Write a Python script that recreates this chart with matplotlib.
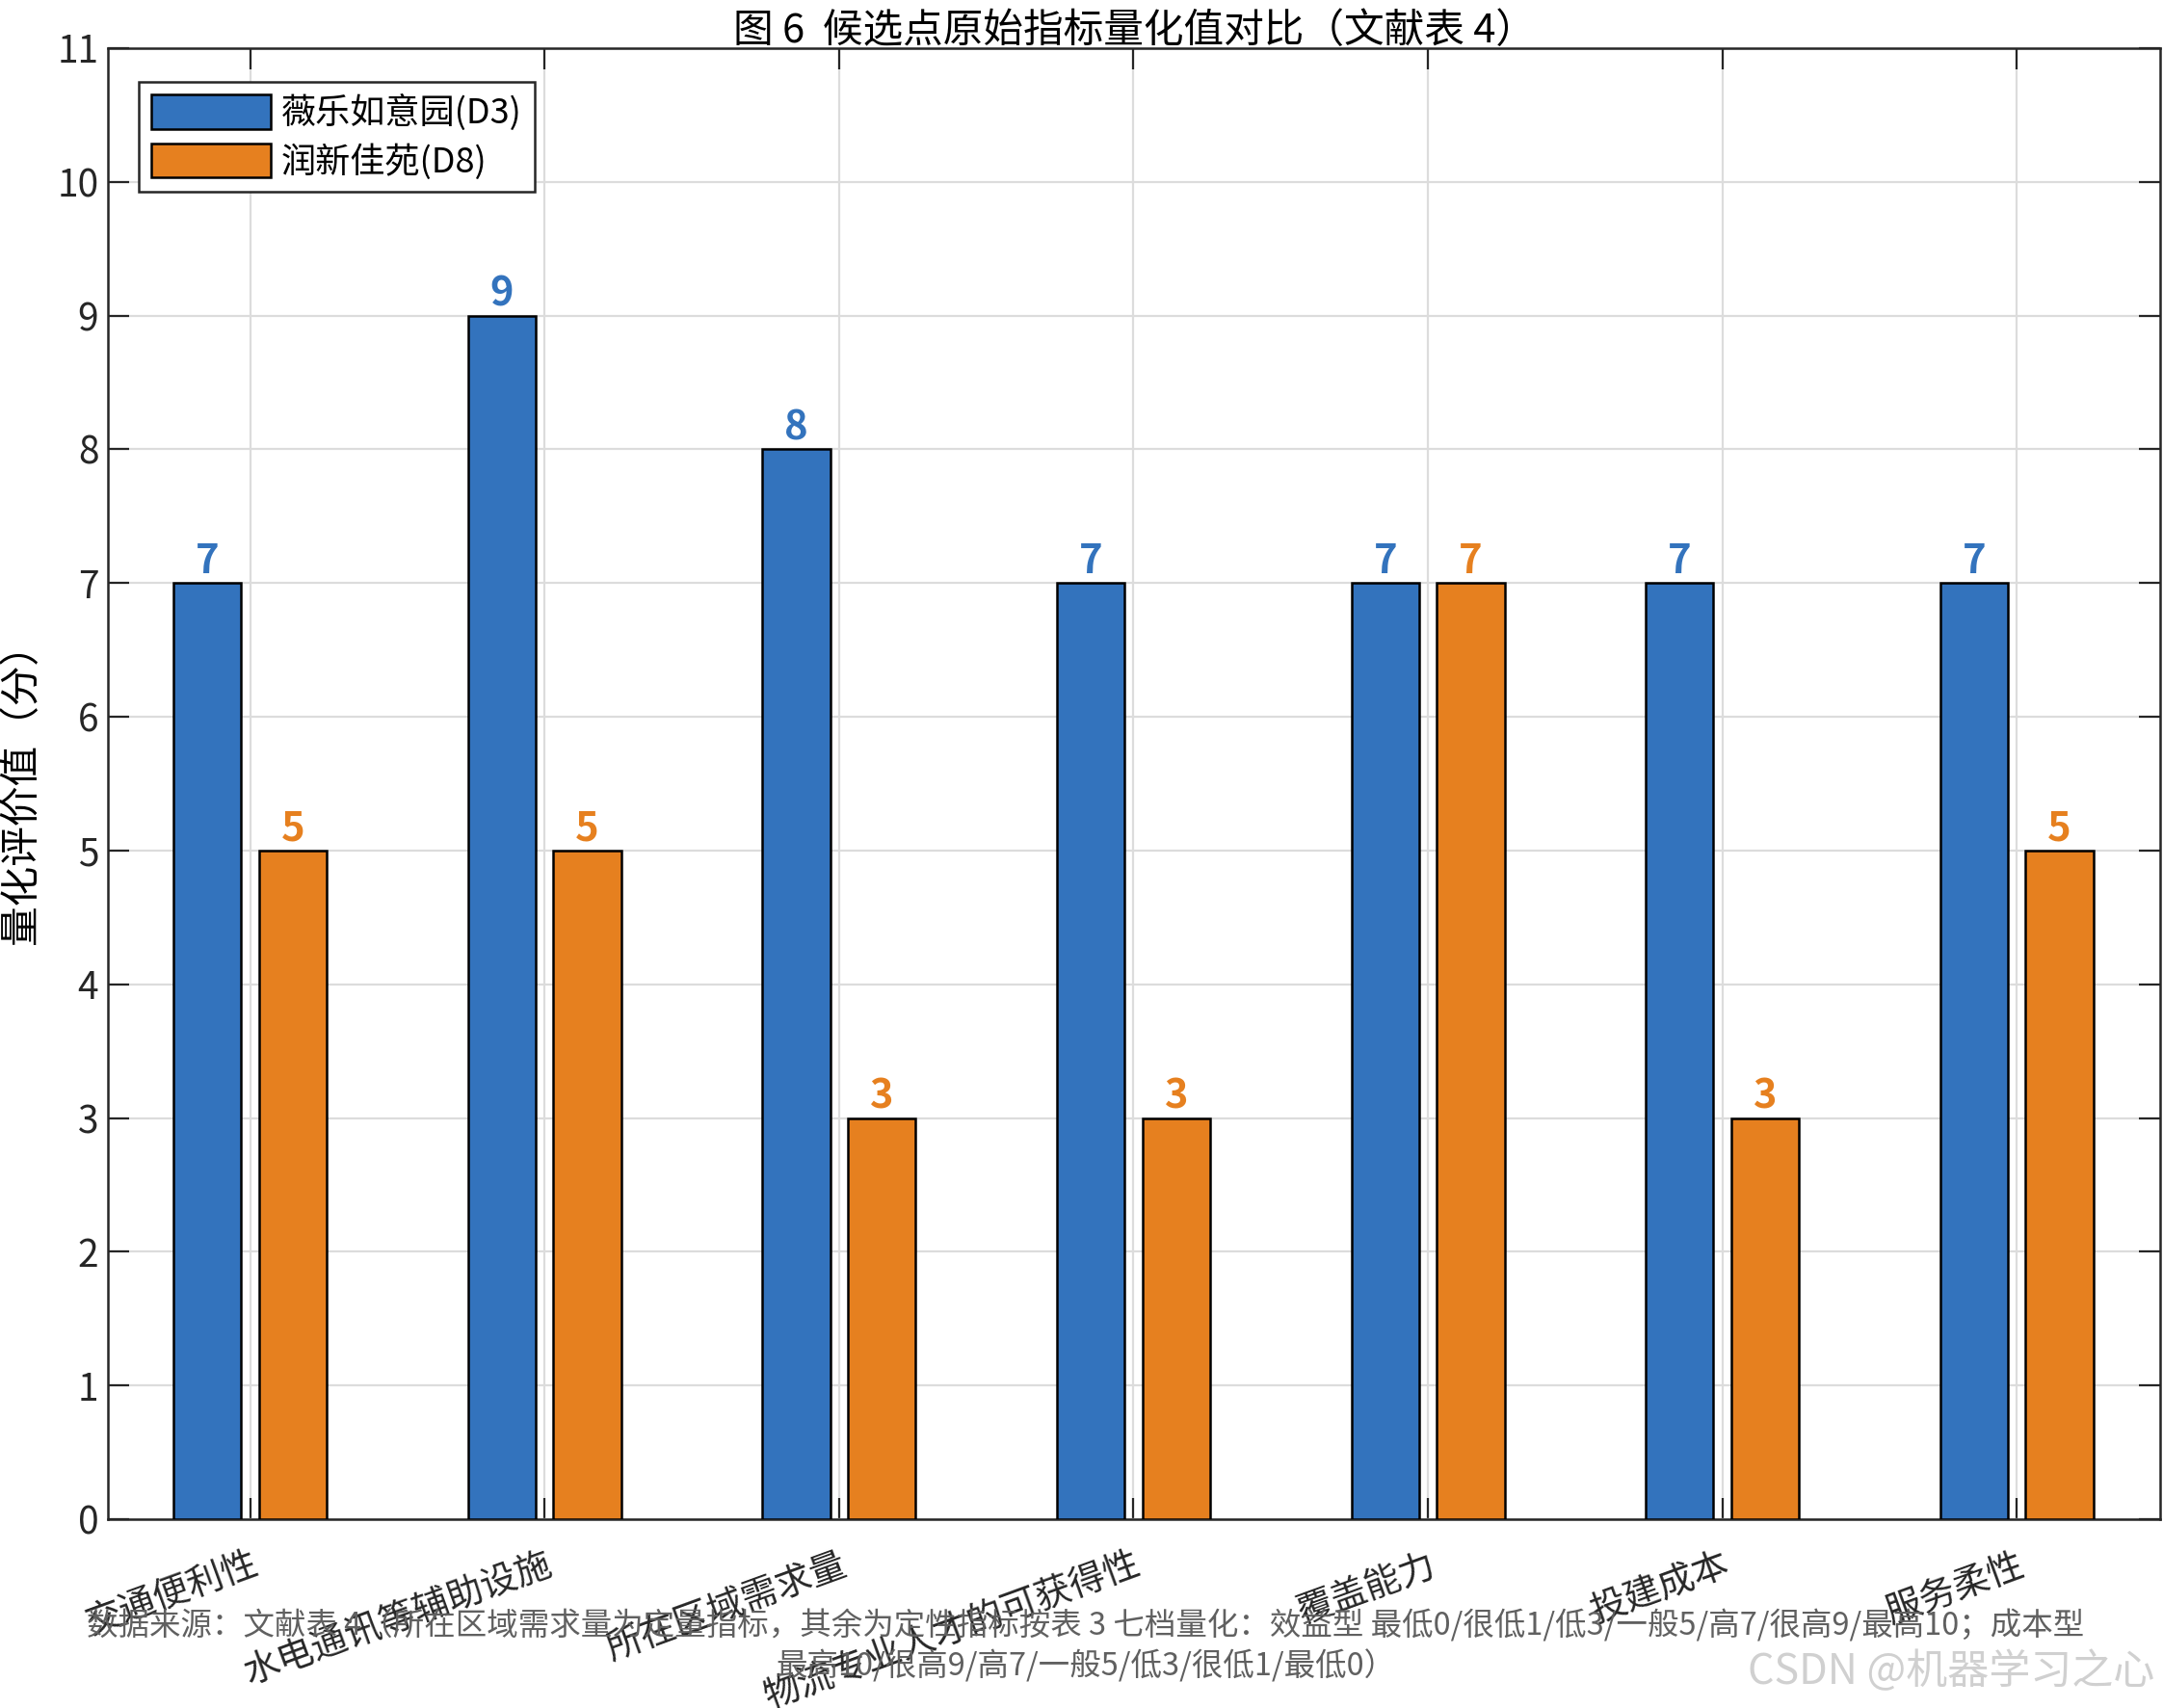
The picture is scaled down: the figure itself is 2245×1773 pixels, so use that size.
import matplotlib
matplotlib.use("Agg")
import matplotlib.pyplot as plt
import numpy as np

plt.rcParams['font.family'] = ['Noto Sans CJK SC', 'DejaVu Sans']

categories = ["交通便利性", "水电通讯等辅助设施", "所在区域需求量", "物流专业人才的可获得性",
              "覆盖能力", "投建成本", "服务柔性"]
d3_values = [7, 9, 8, 7, 7, 7, 7]
d8_values = [5, 5, 3, 3, 7, 3, 5]
series_names = ["薇乐如意园(D3)", "润新佳苑(D8)"]
y_ticks = list(range(0, 12))

title = "图 6  候选点原始指标量化值对比（文献表 4）"
ylabel = "量化评价值（分）"
note = ("数据来源：文献表 4（所在区域需求量为定量指标，其余为定性指标按表 3 七档量化：效益型 最低0/很低1/低3/一般5/高7/很高9/最高10；成本型\n"
        "最高10/很高9/高7/一般5/低3/很低1/最低0）")

c_blue = "#3373BD"
c_orange = "#E6801F"

fig = plt.figure(figsize=(11.225, 8.865), dpi=200)
ax = fig.add_axes([0.0499, 0.1105, 0.9488, 0.8613])

x = np.arange(1, len(categories) + 1)
off = 0.145
w = 0.23
ax.bar(x - off, d3_values, w, color=c_blue, edgecolor="black", linewidth=0.9, label=series_names[0], zorder=3)
ax.bar(x + off, d8_values, w, color=c_orange, edgecolor="black", linewidth=0.9, label=series_names[1], zorder=3)

for xi, v in zip(x - off, d3_values):
    ax.text(xi, v + 0.01, str(v), ha="center", va="bottom", color=c_blue, fontsize=15, fontweight="bold", zorder=4)
for xi, v in zip(x + off, d8_values):
    ax.text(xi, v + 0.01, str(v), ha="center", va="bottom", color=c_orange, fontsize=15, fontweight="bold", zorder=4)

ax.set_xlim(0.517, 7.487)
ax.set_ylim(0, 11)
ax.set_yticks(y_ticks)
ax.set_xticks(x)
ax.set_xticklabels(categories, rotation=20, ha="right", rotation_mode="anchor", fontsize=13.5)
ax.tick_params(axis="y", labelsize=14, colors="#262626")
ax.tick_params(direction="in", length=8, width=0.8, top=True, right=True, color="#262626")
ax.tick_params(axis="x", pad=10, labelcolor="#262626")
ax.grid(True, color="#dcdcdc", linewidth=0.8, zorder=0)
ax.set_axisbelow(True)
for s in ax.spines.values():
    s.set_color("#262626")
    s.set_linewidth(0.9)

ax.set_title(title, fontsize=15, pad=2, color="black")
ax.set_ylabel(ylabel, fontsize=15, labelpad=6)

leg = ax.legend(loc="upper left", bbox_to_anchor=(0.015, 0.977), fontsize=13, handlelength=3.45, handleheight=1.15,
                fancybox=False, edgecolor="#262626", framealpha=1, borderpad=0.35, labelspacing=0.35,
                handletextpad=0.3, borderaxespad=0)
leg.get_frame().set_linewidth(0.9)

fig.text(0.502, 0.0365, note, ha="center", va="center", fontsize=11.7, color="#606060", linespacing=1.3)
fig.text(0.996, 0.021, "CSDN @机器学习之心", ha="right", va="center", fontsize=15.5, color="#d0d0d0")

fig.savefig("out.png", dpi=200)
